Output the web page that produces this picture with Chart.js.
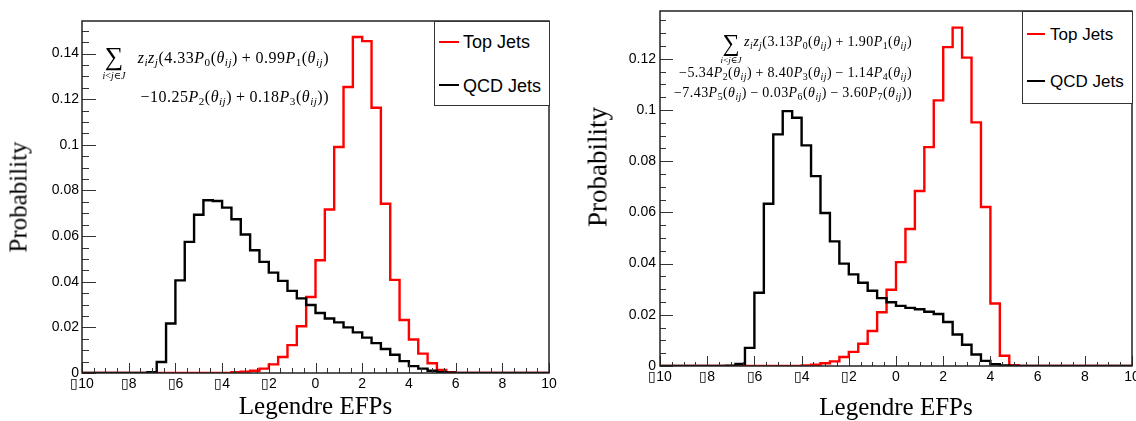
<!DOCTYPE html>
<html>
<head>
<meta charset="utf-8">
<script src="https://cdn.jsdelivr.net/npm/chart.js@4.4.1/dist/chart.umd.min.js"></script>
<style>
  html, body { margin: 0; padding: 0; background: #fff; }
  #page { position: relative; width: 1136px; height: 421px; overflow: hidden; }
  canvas { position: absolute; top: 0; }
  #efp-left { left: 0; }
  #efp-right { left: 560px; }
  .c, .r, .ytitle { position: absolute; white-space: nowrap; line-height: 1; color: #000; }
  .c { transform: translate(-50%, -50%); }
  .r { transform: translate(-100%, -50%); }
  .math { font-family: "Liberation Serif", "DejaVu Serif", serif; }
  .math sub { font-size: 70%; vertical-align: -0.3em; line-height: 0; }
  .math .op { margin: 0 0.25em; }
  .ytitle { font-family: "Liberation Serif", serif; font-size: 25px; transform: translate(-50%, -50%) rotate(-90deg); }
  .legend { position: absolute; box-sizing: border-box; border: 1.5px solid #333; background: #fff; font-family: "Liberation Sans", Arial, sans-serif; }
  .legend .item { position: absolute; line-height: 1; transform: translateY(-50%); }
  .legend .swatch { position: absolute; height: 2px; }
</style>
</head>
<body>
<div id="page">
  <canvas id="efp-left" width="560" height="421"></canvas>
  <canvas id="efp-right" width="576" height="421"></canvas>

  <!-- y titles -->
  <div class="ytitle" style="left:18px; top:197px;">Probability</div>
  <div class="ytitle" style="left:598px; top:167px; font-size:27px;">Probability</div>

  <!-- left formula -->
  <div class="c math" style="left:114px; top:57px; font-size:26px;">&sum;</div>
  <div class="c math" style="left:114px; top:76px; font-size:10px;"><i>i</i>&lt;<i>j</i>&isin;<i>J</i></div>
  <div class="r math" style="left:329px; top:58px; font-size:16px; letter-spacing:0.5px;"><i>z</i><sub><i>i</i></sub><i>z</i><sub><i>j</i></sub>(4.33<i>P</i><sub>0</sub>(<i>&theta;</i><sub><i>ij</i></sub>)<span class="op">+</span>0.99<i>P</i><sub>1</sub>(<i>&theta;</i><sub><i>ij</i></sub>)</div>
  <div class="r math" style="left:329px; top:97px; font-size:16px; letter-spacing:0.5px;">&minus;10.25<i>P</i><sub>2</sub>(<i>&theta;</i><sub><i>ij</i></sub>)<span class="op">+</span>0.18<i>P</i><sub>3</sub>(<i>&theta;</i><sub><i>ij</i></sub>))</div>

  <!-- right formula -->
  <div class="c math" style="left:731px; top:43px; font-size:24px;">&sum;</div>
  <div class="c math" style="left:731px; top:60px; font-size:9px;"><i>i</i>&lt;<i>j</i>&isin;<i>J</i></div>
  <div class="r math" style="left:912px; top:42px; font-size:14px; letter-spacing:0.45px;"><i>z</i><sub><i>i</i></sub><i>z</i><sub><i>j</i></sub>(3.13<i>P</i><sub>0</sub>(<i>&theta;</i><sub><i>ij</i></sub>)<span class="op">+</span>1.90<i>P</i><sub>1</sub>(<i>&theta;</i><sub><i>ij</i></sub>)</div>
  <div class="r math" style="left:912px; top:73px; font-size:14px; letter-spacing:0.45px;">&minus;5.34<i>P</i><sub>2</sub>(<i>&theta;</i><sub><i>ij</i></sub>)<span class="op">+</span>8.40<i>P</i><sub>3</sub>(<i>&theta;</i><sub><i>ij</i></sub>)<span class="op">&minus;</span>1.14<i>P</i><sub>4</sub>(<i>&theta;</i><sub><i>ij</i></sub>)</div>
  <div class="r math" style="left:912px; top:93px; font-size:14px; letter-spacing:0.45px;">&minus;7.43<i>P</i><sub>5</sub>(<i>&theta;</i><sub><i>ij</i></sub>)<span class="op">&minus;</span>0.03<i>P</i><sub>6</sub>(<i>&theta;</i><sub><i>ij</i></sub>)<span class="op">&minus;</span>3.60<i>P</i><sub>7</sub>(<i>&theta;</i><sub><i>ij</i></sub>))</div>

  <!-- legends -->
  <div class="legend" style="left:434px; top:21px; width:116px; height:85px; font-size:18px;">
    <span class="swatch" style="left:4px; top:19px; width:20px; background:#ff0000;"></span>
    <span class="item" style="left:28px; top:20px;">Top Jets</span>
    <span class="swatch" style="left:4px; top:62px; width:20px; background:#000;"></span>
    <span class="item" style="left:28px; top:64px;">QCD Jets</span>
  </div>
  <div class="legend" style="left:1022px; top:11px; width:111px; height:93px; font-size:17px;">
    <span class="swatch" style="left:4px; top:21px; width:18px; background:#ff0000;"></span>
    <span class="item" style="left:27px; top:22px;">Top Jets</span>
    <span class="swatch" style="left:4px; top:68px; width:18px; background:#000;"></span>
    <span class="item" style="left:27px; top:69px;">QCD Jets</span>
  </div>
</div>

<script>
// histogram binning: 50 bins of width 0.4 from -10 to 10
const binLow = -10;
const binHigh = 10;
const binWidth = 0.4;

// left panel (4 Legendre terms)
const leftTop = [
  0, 0, 0, 0, 0, 0, 0, 0, 0, 0,
  0, 0, 0, 0, 0, 0, 0.0003, 0.0006, 0.0010, 0.0019,
  0.0038, 0.0070, 0.0122, 0.0205, 0.0333, 0.0494, 0.0717, 0.0991, 0.1254, 0.1473,
  0.1455, 0.1163, 0.0742, 0.0408, 0.0232, 0.0147, 0.0085, 0.0043, 0.0013, 0.0003,
  0, 0, 0, 0, 0, 0, 0, 0, 0, 0,
];
const leftQcd = [
  0, 0, 0, 0, 0, 0, 0, 0.0003, 0.0048, 0.0217,
  0.0406, 0.0575, 0.0694, 0.0757, 0.0754, 0.0725, 0.0674, 0.0607, 0.0538, 0.0487,
  0.0440, 0.0404, 0.0360, 0.0327, 0.0298, 0.0263, 0.0239, 0.0222, 0.0200, 0.0178,
  0.0155, 0.0131, 0.0105, 0.0080, 0.0052, 0.0030, 0.0019, 0.0010, 0.0004, 0.0001,
  0, 0, 0, 0, 0, 0, 0, 0, 0, 0,
];

// right panel (8 Legendre terms)
const rightTop = [
  0, 0, 0, 0, 0, 0, 0, 0, 0, 0,
  0, 0, 0, 0, 0, 0.0002, 0.0005, 0.0011, 0.0018, 0.0035,
  0.0055, 0.0087, 0.0137, 0.0210, 0.0298, 0.0406, 0.0535, 0.0684, 0.0855, 0.1038,
  0.1246, 0.1322, 0.1205, 0.0952, 0.0621, 0.0244, 0.0040, 0.0003, 0, 0,
  0, 0, 0, 0, 0, 0, 0, 0, 0, 0,
];
const rightQcd = [
  0, 0, 0, 0, 0, 0, 0, 0.0001, 0.0008, 0.0071,
  0.0286, 0.0634, 0.0905, 0.0996, 0.0970, 0.0862, 0.0742, 0.0598, 0.0487, 0.0400,
  0.0358, 0.0325, 0.0294, 0.0265, 0.0249, 0.0235, 0.0227, 0.0222, 0.0212, 0.0203,
  0.0172, 0.0123, 0.0083, 0.0045, 0.0020, 0.0007, 0.0002, 0, 0, 0,
  0, 0, 0, 0, 0, 0, 0, 0, 0, 0,
];

const seriesLabels = ["Top Jets", "QCD Jets"];

// ROOT draws a missing-glyph box in place of the minus sign
const xTickLabel = (v) => (v < 0 ? "\u25AF" + Math.abs(v) : String(v));
const yTickLabel = (v) => String(+v.toFixed(3));

// step outline: one point per lower bin edge plus the closing edge
function histPoints(values) {
  const pts = values.map((v, i) => ({ x: binLow + i * binWidth, y: v }));
  pts.push({ x: binHigh, y: values[values.length - 1] });
  return pts;
}

// ROOT style frame with inward ticks
const rootFrame = {
  id: "rootFrame",
  afterDatasetsDraw(chart, args, opts) {
    const { ctx, chartArea: a, scales } = chart;
    const x = scales.x;
    const y = scales.y;
    ctx.save();
    ctx.strokeStyle = "#333";
    ctx.lineWidth = 1;
    const nx = Math.round((binHigh - binLow) / 0.5);
    for (let i = 0; i <= nx; i++) {
      const px = Math.round(x.getPixelForValue(binLow + i * 0.5)) + 0.5;
      const len = i % 4 === 0 ? opts.xMajor : opts.xMinor;
      ctx.beginPath();
      ctx.moveTo(px, a.bottom);
      ctx.lineTo(px, a.bottom - len);
      ctx.stroke();
    }
    const ny = Math.floor(y.max / 0.005 + 1e-6);
    for (let i = 0; i <= ny; i++) {
      const py = Math.round(y.getPixelForValue(i * 0.005)) + 0.5;
      const len = i % 4 === 0 ? opts.yMajor : opts.yMinor;
      ctx.beginPath();
      ctx.moveTo(a.left, py);
      ctx.lineTo(a.left + len, py);
      ctx.stroke();
    }
    ctx.strokeStyle = "#222";
    ctx.lineWidth = 1.5;
    ctx.strokeRect(a.left, a.top, a.right - a.left, a.bottom - a.top);
    ctx.restore();
  },
};

Chart.defaults.font.family = '"Liberation Sans", Arial, sans-serif';
Chart.defaults.color = "#000";

function makeChart(id, topVals, qcdVals, p) {
  return new Chart(document.getElementById(id), {
    type: "line",
    data: {
      datasets: [
        {
          label: seriesLabels[0],
          data: histPoints(topVals),
          borderColor: "#ff0000",
          borderWidth: 2.4,
          stepped: "before",
          pointRadius: 0,
          fill: false,
          order: 2,
        },
        {
          label: seriesLabels[1],
          data: histPoints(qcdVals),
          borderColor: "#000000",
          borderWidth: 2.4,
          stepped: "before",
          pointRadius: 0,
          fill: false,
          order: 1,
        },
      ],
    },
    options: {
      responsive: false,
      animation: false,
      events: [],
      layout: { padding: { left: 0, top: p.top, right: p.right, bottom: 0 } },
      plugins: {
        legend: { display: false },
        tooltip: { enabled: false },
        rootFrame: p.ticks,
      },
      scales: {
        x: {
          type: "linear",
          min: binLow,
          max: binHigh,
          grid: { display: false, drawTicks: false },
          border: { display: false },
          ticks: { stepSize: 2, padding: 3, maxRotation: 0, autoSkip: false, font: { size: 14 }, callback: xTickLabel },
          title: {
            display: true,
            text: "Legendre EFPs",
            font: { family: '"Liberation Serif", serif', size: 25, lineHeight: 1 },
            padding: { top: 0, bottom: p.titlePad },
          },
          afterFit(s) {
            s.height = p.xHeight;
            s.paddingLeft = 0;
            s.paddingRight = 0;
          },
        },
        y: {
          min: 0,
          max: p.yMax,
          grid: { display: false, drawTicks: false },
          border: { display: false },
          ticks: { stepSize: 0.02, padding: p.yPad, includeBounds: false, font: { size: 14 }, callback: yTickLabel },
          afterFit(s) {
            s.width = p.yWidth;
            s.paddingTop = 0;
            s.paddingBottom = 0;
          },
        },
      },
    },
    plugins: [rootFrame],
  });
}

makeChart("efp-left", leftTop, leftQcd, {
  top: 21, right: 11, xHeight: 48, yWidth: 82, yMax: 0.1543, yPad: 3, titlePad: 1.5,
  ticks: { xMajor: 10, xMinor: 5, yMajor: 14, yMinor: 7 },
});
makeChart("efp-right", rightTop, rightQcd, {
  top: 11, right: 4, xHeight: 55, yWidth: 100, yMax: 0.1387, yPad: 4, titlePad: 0,
  ticks: { xMajor: 10, xMinor: 4, yMajor: 13, yMinor: 6 },
});
</script>
</body>
</html>
